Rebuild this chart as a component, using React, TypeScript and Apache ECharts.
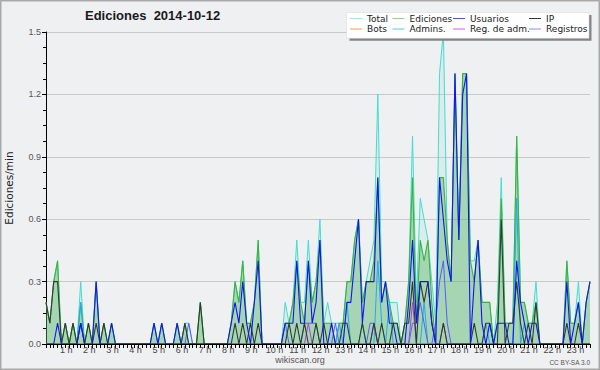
import React, { useEffect, useRef } from 'react';
import * as echarts from 'echarts';

// 10-minute bins, one row per hour (00:00 .. 23:30)
const total = [
  [0.2, 0.1, 0.3, 0.4, 0, 0.1],
  [0, 0.1, 0, 0.3, 0, 0.1],
  [0, 0.3, 0, 0.1, 0, 0.1],
  [0, 0, 0, 0, 0, 0],
  [0, 0, 0, 0, 0.1, 0],
  [0.1, 0, 0, 0, 0.1, 0],
  [0.1, 0.1, 0, 0, 0.2, 0],
  [0, 0, 0, 0, 0, 0],
  [0.1, 0.3, 0.2, 0.4, 0.1, 0.1],
  [0.2, 0.5, 0, 0, 0, 0],
  [0, 0, 0.2, 0.1, 0.2, 0.5],
  [0.2, 0.2, 0.5, 0.2, 0.3, 0.6],
  [0.1, 0.2, 0.1, 0.1, 0.1, 0.1],
  [0.3, 0.3, 0.5, 0.6, 0.2, 0.3],
  [0.4, 0.5, 1.2, 0.3, 0.3, 0.2],
  [0.2, 0.2, 0, 0.1, 0.3, 1.0],
  [0.2, 0.7, 0.6, 0.5, 0.3, 0.1],
  [1.3, 1.5, 0.5, 0.3, 1.3, 0.5],
  [1.3, 1.3, 0.4, 0.4, 0.5, 0.2],
  [0.2, 0.2, 0, 0.2, 0.8, 0.1],
  [0.1, 0.1, 1.0, 0.2, 0.2, 0.1],
  [0.1, 0.3, 0, 0, 0, 0],
  [0, 0, 0, 0.4, 0.1, 0.1],
  [0.3, 0, 0.2, 0.3],
].flat();

const ediciones = [
  [0.2, 0.1, 0.3, 0.4, 0, 0.1],
  [0, 0.1, 0, 0.2, 0, 0.1],
  [0, 0.3, 0, 0.1, 0, 0.1],
  [0, 0, 0, 0, 0, 0],
  [0, 0, 0, 0, 0.1, 0],
  [0.1, 0, 0, 0, 0.1, 0],
  [0.1, 0, 0, 0, 0.2, 0],
  [0, 0, 0, 0, 0, 0],
  [0.1, 0.3, 0.2, 0.4, 0.1, 0.1],
  [0.2, 0.5, 0, 0, 0, 0],
  [0, 0, 0.1, 0.1, 0.2, 0.4],
  [0.2, 0.1, 0.4, 0.2, 0.3, 0.5],
  [0.1, 0.1, 0.1, 0, 0.1, 0.1],
  [0.3, 0.3, 0.5, 0.6, 0.2, 0.3],
  [0.3, 0.4, 0.8, 0.2, 0.3, 0.2],
  [0.1, 0.1, 0, 0.1, 0.3, 0.8],
  [0.1, 0.5, 0.4, 0.5, 0.2, 0],
  [0.8, 0.8, 0.5, 0.3, 1.3, 0.5],
  [1.3, 1.3, 0.4, 0.3, 0.5, 0.2],
  [0.2, 0.2, 0, 0.1, 0.7, 0.1],
  [0.1, 0.1, 1.0, 0.2, 0.2, 0.1],
  [0.1, 0.2, 0, 0, 0, 0],
  [0, 0, 0, 0.4, 0.1, 0.1],
  [0.2, 0, 0.2, 0.3],
].flat();

const usuarios = [
  [0, 0, 0, 0.1, 0, 0],
  [0, 0, 0, 0.1, 0, 0],
  [0, 0.3, 0, 0, 0, 0.1],
  [0, 0, 0, 0, 0, 0],
  [0, 0, 0, 0, 0.1, 0],
  [0.1, 0, 0, 0, 0.1, 0],
  [0, 0, 0, 0, 0, 0],
  [0, 0, 0, 0, 0, 0],
  [0.1, 0.2, 0.1, 0.3, 0.1, 0],
  [0.2, 0.4, 0, 0, 0, 0],
  [0, 0, 0.1, 0.1, 0.1, 0.4],
  [0.1, 0.1, 0.4, 0.1, 0.2, 0.5],
  [0, 0, 0.1, 0, 0, 0],
  [0.2, 0.2, 0.4, 0.6, 0.1, 0.3],
  [0.3, 0.3, 0.8, 0.2, 0.3, 0.1],
  [0.1, 0, 0, 0, 0.2, 0.5],
  [0.1, 0.3, 0.3, 0.3, 0.1, 0],
  [0.8, 0.6, 0.4, 0.3, 1.3, 0.5],
  [1.2, 1.3, 0, 0.3, 0.5, 0.1],
  [0, 0.1, 0, 0.1, 0.1, 0.1],
  [0, 0, 0.4, 0.2, 0.1, 0],
  [0.1, 0.1, 0, 0, 0, 0],
  [0, 0, 0, 0.3, 0, 0.1],
  [0.2, 0, 0.2, 0.3],
].flat();

const ip = [
  [0.2, 0.1, 0.3, 0.3, 0, 0.1],
  [0, 0.1, 0, 0.1, 0, 0.1],
  [0, 0.1, 0, 0.1, 0, 0],
  [0, 0, 0, 0, 0, 0],
  [0, 0, 0, 0, 0, 0],
  [0, 0, 0, 0, 0, 0],
  [0.1, 0, 0, 0, 0.2, 0],
  [0, 0, 0, 0, 0, 0],
  [0, 0.1, 0, 0.1, 0, 0.1],
  [0, 0.1, 0, 0, 0, 0],
  [0, 0, 0, 0.1, 0, 0.1],
  [0, 0.1, 0, 0, 0.1, 0],
  [0.1, 0, 0, 0, 0, 0.1],
  [0.1, 0, 0, 0, 0.1, 0],
  [0, 0.1, 0, 0.1, 0, 0],
  [0.1, 0.1, 0, 0.1, 0.1, 0.3],
  [0, 0.3, 0.2, 0.3, 0.1, 0],
  [0, 0.1, 0, 0, 0, 0],
  [0, 0, 0, 0.1, 0, 0],
  [0.1, 0.1, 0, 0, 0.6, 0],
  [0.1, 0.1, 0.3, 0.1, 0, 0.1],
  [0, 0.2, 0, 0, 0, 0],
  [0, 0, 0, 0.1, 0, 0],
  [0.1, 0, 0, 0],
].flat();

const bots = [
  [0, 0, 0, 0, 0, 0], [0, 0, 0, 0, 0, 0], [0, 0, 0, 0, 0, 0], [0, 0, 0, 0, 0, 0],
  [0, 0, 0, 0, 0, 0], [0, 0, 0, 0, 0, 0], [0, 0, 0, 0, 0, 0], [0, 0, 0, 0, 0, 0],
  [0, 0, 0, 0, 0, 0], [0, 0, 0, 0, 0, 0], [0, 0, 0, 0, 0, 0], [0, 0, 0, 0, 0, 0],
  [0, 0, 0, 0, 0, 0], [0, 0, 0, 0, 0, 0], [0, 0, 0, 0, 0, 0], [0, 0, 0, 0, 0, 0],
  [0, 0, 0, 0, 0, 0], [0, 0, 0, 0, 0, 0], [0, 0, 0, 0, 0, 0], [0, 0, 0, 0, 0, 0],
  [0, 0, 0, 0, 0, 0], [0, 0, 0, 0, 0, 0], [0, 0, 0, 0, 0, 0], [0, 0, 0, 0],
].flat();

const admins = [
  [0, 0, 0, 0, 0, 0], [0, 0, 0, 0.2, 0, 0], [0, 0, 0, 0, 0, 0], [0, 0, 0, 0, 0, 0],
  [0, 0, 0, 0, 0, 0], [0, 0, 0, 0, 0, 0], [0, 0, 0, 0, 0, 0], [0, 0, 0, 0, 0, 0],
  [0, 0, 0, 0, 0, 0], [0, 0, 0, 0, 0, 0], [0, 0, 0, 0, 0, 0], [0, 0, 0, 0, 0, 0],
  [0, 0, 0, 0, 0.1, 0], [0.2, 0, 0, 0, 0.1, 0], [0, 0, 0.4, 0.1, 0, 0.2], [0, 0, 0, 0, 0, 0],
  [0, 0, 0.2, 0, 0, 0], [0, 0, 0, 0, 0, 0], [0, 0, 0, 0, 0, 0], [0.1, 0, 0, 0, 0, 0],
  [0, 0, 0.7, 0, 0.1, 0], [0, 0, 0, 0, 0, 0], [0, 0, 0, 0, 0, 0], [0, 0, 0, 0],
].flat();

const regAdm = [
  [0, 0, 0, 0, 0, 0], [0, 0, 0, 0, 0, 0], [0, 0, 0, 0, 0, 0], [0, 0, 0, 0, 0, 0],
  [0, 0, 0, 0, 0, 0], [0, 0, 0, 0, 0, 0], [0, 0, 0, 0, 0, 0], [0, 0, 0, 0, 0, 0],
  [0, 0, 0, 0, 0, 0], [0, 0, 0, 0, 0, 0], [0, 0, 0, 0, 0, 0], [0, 0, 0.1, 0, 0, 0],
  [0, 0, 0, 0, 0, 0], [0, 0, 0, 0, 0, 0], [0, 0.1, 0, 0, 0, 0], [0, 0, 0, 0, 0, 0.2],
  [0, 0, 0, 0, 0, 0], [0, 0.1, 0, 0, 0, 0], [0, 0, 0, 0, 0, 0], [0, 0, 0, 0, 0, 0],
  [0, 0, 0, 0, 0, 0], [0, 0, 0, 0, 0, 0], [0, 0, 0, 0, 0, 0], [0, 0, 0, 0],
].flat();

const registros = [
  [0, 0, 0, 0, 0, 0], [0, 0, 0, 0.1, 0, 0], [0, 0, 0, 0, 0, 0], [0, 0, 0, 0, 0, 0],
  [0, 0, 0, 0, 0, 0], [0, 0, 0, 0, 0, 0], [0, 0.1, 0, 0, 0, 0], [0, 0, 0, 0, 0, 0],
  [0, 0, 0, 0, 0, 0], [0, 0, 0, 0, 0, 0], [0, 0, 0.1, 0, 0, 0], [0, 0.1, 0.1, 0.1, 0.1, 0],
  [0, 0, 0, 0.1, 0, 0], [0, 0, 0, 0, 0, 0], [0.1, 0.1, 0, 0, 0, 0], [0, 0, 0, 0, 0, 0.1],
  [0.1, 0.2, 0.1, 0, 0, 0.1], [0.3, 0.4, 0.1, 0, 0, 0], [0, 0, 0, 0, 0, 0], [0, 0, 0, 0, 0, 0],
  [0, 0, 0, 0, 0, 0], [0, 0, 0, 0, 0, 0], [0, 0, 0, 0, 0, 0], [0, 0, 0, 0],
].flat();

const hourLabels = [
  '', '1 h', '2 h', '3 h', '4 h', '5 h', '6 h', '7 h', '8 h', '9 h', '10 h', '11 h',
  '12 h', '13 h', '14 h', '15 h', '16 h', '17 h', '18 h', '19 h', '20 h', '21 h', '22 h', '23 h',
];

const titleText = 'Ediciones  2014-10-12';
const yName = 'Ediciones/min';

const legendColumns = [
  ['Total', 'Bots'],
  ['Ediciones', 'Admins.'],
  ['Usuarios', 'Reg. de adm.'],
  ['IP', 'Registros'],
];
const legendLeft = [350, 392.5, 453, 529];
const legendColors: Record<string, string> = {
  Total: '#a6e4dc',
  Ediciones: '#8fd18f',
  Usuarios: '#5252d4',
  IP: '#3a3a3a',
  Bots: '#f2a040',
  'Admins.': '#52cede',
  'Reg. de adm.': '#d45ae2',
  Registros: '#8a8aee',
};

const pairs = (arr: number[]) => arr.map((v, i) => [i, v]);

export default function App() {
  const ref = useRef<HTMLDivElement>(null);
  useEffect(() => {
    if (!ref.current) return;
    const chart = echarts.init(ref.current, undefined, { renderer: 'svg' });
    const lineBase = {
      type: 'line',
      symbol: 'none',
      showSymbol: false,
      silent: true,
      smooth: false,
    };
    chart.setOption({
      animation: false,
      backgroundColor: '#eff0f2',
      textStyle: { fontFamily: 'Liberation Sans' },
      title: {
        text: titleText,
        left: 85,
        top: 9,
        padding: 0,
        textStyle: { fontFamily: 'Liberation Sans', fontWeight: 'bold', fontSize: 13, color: '#1a1a1a' },
      },
      grid: {
        left: 46, top: 32, right: 10, bottom: 26,
        containLabel: false,
        outerBoundsMode: 'none',
      },
      legend: legendColumns.map((col, k) => ({
        orient: 'vertical',
        left: legendLeft[k],
        top: 13.25,
        padding: 0,
        itemGap: 0,
        itemWidth: 12,
        itemHeight: 1,
        icon: 'rect',
        selectedMode: false,
        z: 12,
        textStyle: { fontFamily: 'DejaVu Sans', fontSize: 9, color: '#222', lineHeight: 10.5 },
        data: col.map((n) => ({ name: n, itemStyle: { color: legendColors[n] } })),
      })),
      xAxis: {
        type: 'value',
        min: 0,
        max: 141,
        interval: 6,
        z: 5,
        axisLine: { show: true, onZero: false, lineStyle: { color: '#000', width: 1 } },
        axisTick: { show: true, length: 4, lineStyle: { color: '#000' } },
        minorTick: { show: true, splitNumber: 6, length: 4, lineStyle: { color: '#000' } },
        splitLine: { show: false },
        axisLabel: {
          margin: 1,
          fontSize: 9,
          color: '#444',
          fontFamily: 'Liberation Sans',
          padding: [0, 6, 0, 0],
          showMaxLabel: false,
          formatter: (v: number) => (v % 6 === 0 ? hourLabels[v / 6] ?? '' : ''),
        },
      },
      yAxis: {
        type: 'value',
        min: 0,
        max: 1.5,
        interval: 0.3,
        name: yName,
        nameLocation: 'middle',
        nameRotate: 90,
        nameGap: 31.5,
        nameTextStyle: { fontFamily: 'DejaVu Sans', fontSize: 10.5, color: '#222' },
        axisLine: { show: true, lineStyle: { color: '#000', width: 1 } },
        axisTick: { show: true, length: 4, lineStyle: { color: '#000' } },
        minorTick: { show: true, splitNumber: 4, length: 3, lineStyle: { color: '#000' } },
        splitLine: { show: true, lineStyle: { color: '#c9c9c9', width: 1 } },
        axisLabel: {
          margin: 5,
          fontSize: 9,
          color: '#555',
          fontFamily: 'Liberation Sans',
          formatter: (v: number) => v.toFixed(1),
        },
      },
      graphic: [
        {
          type: 'rect', z: 10, silent: true,
          shape: { x: 349.5, y: 15, width: 242, height: 25.7 },
          style: { fill: '#858585' },
        },
        {
          type: 'rect', z: 11, silent: true,
          shape: { x: 346.5, y: 12.5, width: 242.5, height: 25.8 },
          style: { fill: '#ffffff', stroke: '#d6d6d6', lineWidth: 0.5 },
        },
        {
          type: 'text', z: 10, silent: true, x: 300, y: 360,
          style: { text: 'wikiscan.org', fill: '#555', font: '9px "Liberation Sans"', align: 'center', verticalAlign: 'middle' },
        },
        {
          type: 'text', z: 10, silent: true, x: 590, y: 362.5,
          style: { text: 'CC BY-SA 3.0', fill: '#555', font: '6.5px "Liberation Sans"', align: 'right', verticalAlign: 'middle' },
        },
        {
          type: 'rect', z: 20, silent: true,
          shape: { x: 0.75, y: 0.75, width: 598.5, height: 368.5 },
          style: { fill: 'none', stroke: '#a9a9a9', lineWidth: 1.5 },
        },
      ],
      series: [
        {
          ...lineBase, name: 'Bots', z: 1, data: pairs(bots),
          color: '#f0a030', lineStyle: { color: '#f0a030', width: 1 },
        },
        {
          ...lineBase, name: 'Total', z: 2, data: pairs(total),
          color: '#44dcd0', lineStyle: { color: '#44dcd0', width: 1 },
          areaStyle: { color: 'rgba(110,215,195,0.22)' },
        },
        {
          ...lineBase, name: 'Ediciones', z: 3, data: pairs(ediciones),
          color: '#3cb43c', lineStyle: { color: '#3cb43c', width: 1.1 },
          areaStyle: { color: 'rgba(62,168,70,0.48)' },
        },
        {
          ...lineBase, name: 'Admins.', z: 4, data: pairs(admins),
          color: '#26aae6', lineStyle: { color: '#26aae6', width: 1 },
        },
        {
          ...lineBase, name: 'Registros', z: 4, data: pairs(registros),
          color: '#5a5aff', lineStyle: { color: '#5a5aff', width: 1 },
        },
        {
          ...lineBase, name: 'Reg. de adm.', z: 4, data: pairs(regAdm),
          color: '#b23fd8', lineStyle: { color: '#b23fd8', width: 1 },
        },
        {
          ...lineBase, name: 'IP', z: 4, data: pairs(ip),
          color: '#2f3d2f', lineStyle: { color: '#2f3d2f', width: 1.1 },
        },
        {
          ...lineBase, name: 'Usuarios', z: 4, data: pairs(usuarios),
          color: '#1414f0', lineStyle: { color: '#1414f0', width: 1.1 },
        },
      ],
    });
    return () => chart.dispose();
  }, []);
  return (
    <div
      ref={ref}
      style={{ position: 'absolute', left: 0, top: 0, width: 600, height: 370 }}
    />
  );
}
